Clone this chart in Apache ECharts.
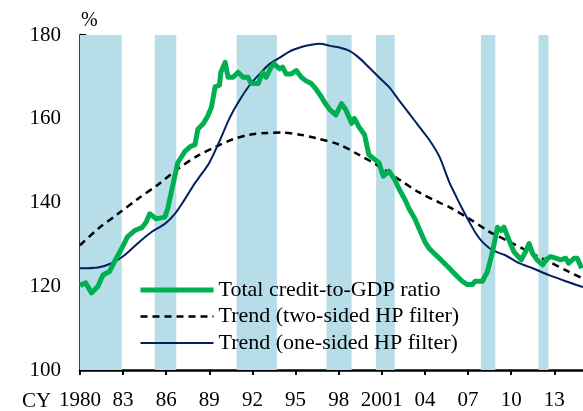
<!DOCTYPE html>
<html>
<head>
<meta charset="utf-8">
<script src="https://cdn.jsdelivr.net/npm/echarts@6/dist/echarts.min.js"></script>
<style>
  html, body { margin: 0; padding: 0; background: #fff; }
  #chart { width: 583px; height: 411px; }
</style>
</head>
<body>
<div id="chart"></div>
<script>
// recession / crisis shading, [start, end] in years
const recessions = [
  [1980, 1982.9], [1985.2, 1986.7], [1990.9, 1993.7], [1997.15, 1998.9],
  [2000.6, 2001.9], [2007.9, 2008.9], [2011.9, 2012.6]
]

const tickYears = [1980, 1983, 1986, 1989, 1992, 1995, 1998, 2001, 2004, 2007, 2010, 2013]
const tickLabels = ['1980', '83', '86', '89', '92', '95', '98', '2001', '04', '07', '10', '13']

// [year, %]
const creditRatio = [
  [1980.0, 120.2], [1980.4, 120.8], [1980.8, 118.4], [1981.25, 120], [1981.6, 122.7],
  [1982.05, 123.5], [1982.4, 125.9], [1982.9, 129], [1983.3, 131.8], [1983.8, 133.3],
  [1984.3, 134], [1984.6, 135.3], [1984.85, 137.3], [1985.3, 136.1], [1985.9, 136.5],
  [1986.1, 138.5], [1986.45, 144], [1986.8, 149.5], [1987.3, 152.2], [1987.7, 153.4],
  [1988.0, 153.8], [1988.2, 157.5], [1988.6, 158.9], [1988.9, 160.7], [1989.15, 162.8],
  [1989.4, 167.6], [1989.7, 168], [1989.8, 171.1], [1990.1, 173.5], [1990.3, 169.9],
  [1990.65, 169.9], [1991.0, 171.1], [1991.35, 169.9], [1991.7, 169.9], [1991.9, 168.4],
  [1992.4, 168.4], [1992.7, 171.1], [1992.95, 169.9], [1993.3, 172.3], [1993.5, 173.1],
  [1993.9, 171.9], [1994.1, 172.3], [1994.35, 170.7], [1994.7, 170.7], [1995.05, 171.5],
  [1995.4, 169.9], [1995.7, 169.1], [1996.1, 168.4], [1996.4, 167.2], [1996.8, 165.2],
  [1997.0, 164], [1997.4, 162.1], [1997.8, 160.9], [1998.2, 163.6], [1998.5, 162.1],
  [1998.9, 158.9], [1999.1, 160.1], [1999.4, 158.1], [1999.8, 156.2], [2000.1, 151.4],
  [2000.5, 150.3], [2000.8, 149.5], [2001.1, 146.3], [2001.5, 147.5], [2001.9, 145.5],
  [2002.2, 143.2], [2002.6, 140.8], [2002.9, 138.5], [2003.3, 136.1], [2003.6, 133.7],
  [2004.0, 130.6], [2004.3, 129], [2004.65, 127.8], [2005.0, 126.7], [2005.35, 125.5],
  [2005.7, 124.3], [2006.15, 122.7], [2006.6, 121.2], [2006.95, 120.4], [2007.3, 120.4],
  [2007.5, 121.2], [2008.0, 121.2], [2008.35, 123.5], [2008.7, 128.2], [2009.05, 134.1],
  [2009.3, 133.3], [2009.5, 134.1], [2009.9, 130.6], [2010.2, 128.2], [2010.7, 126.3],
  [2011.0, 128.2], [2011.25, 130.2], [2011.5, 127.8], [2011.8, 126.3], [2012.2, 125.1],
  [2012.4, 126.3], [2012.75, 127.1], [2013.1, 126.7], [2013.45, 126.3], [2013.8, 126.7],
  [2014.0, 125.5], [2014.4, 126.7], [2014.6, 126.7], [2014.9, 124.3]
]

const trendTwoSided = [
  [1980, 129.8], [1981.25, 133.7], [1982.6, 137.2], [1984, 140.8], [1985.4, 144.2],
  [1986.8, 148], [1988.2, 151.2], [1989.5, 153.4], [1990.65, 155.1], [1991.8, 156.2],
  [1993, 156.6], [1994.1, 156.7], [1995.3, 156.2], [1996.4, 155.4], [1998.05, 153.8],
  [1999.4, 151.4], [2000.8, 148.7], [2002.2, 145.5], [2003.6, 142.4], [2005, 140],
  [2005.7, 138.9], [2007.1, 136.1], [2008.5, 133], [2009.9, 130.6], [2011.25, 128.2],
  [2012.6, 125.9], [2014, 123.5], [2015, 121.8]
]

const trendOneSided = [
  [1980, 124.3], [1981.25, 124.5], [1982.2, 125.5], [1983.1, 127.4], [1984, 130.2],
  [1985, 133], [1985.9, 134.9], [1986.6, 137.3], [1987.3, 140.8], [1987.95, 144.4],
  [1988.5, 147], [1989, 149.5], [1989.7, 154.6], [1990.4, 160.1], [1991.1, 164.4],
  [1991.8, 168], [1992.5, 170.7], [1993.2, 173.1], [1993.9, 174.6], [1994.6, 176.1],
  [1995.3, 177], [1996, 177.6], [1996.7, 177.9], [1997.4, 177.4], [1998.05, 177],
  [1998.75, 176.2], [1999.4, 174.6], [2000.1, 172.3], [2000.8, 169.9], [2001.5, 167.6],
  [2002.2, 164.4], [2002.9, 161.3], [2003.6, 158.1], [2004.3, 155], [2005, 151],
  [2005.7, 144.8], [2006.15, 141.6], [2006.6, 138.5], [2007.1, 135.3], [2007.55, 132.6],
  [2008, 130.6], [2008.7, 128.6], [2009.6, 127.4], [2010.55, 125.5], [2011.5, 124.3],
  [2012.6, 122.7], [2013.8, 121.2], [2015, 119.8]
]

const serif = 'Liberation Serif'

const chart = echarts.init(document.getElementById('chart'))
chart.setOption({
  animation: false,
  backgroundColor: '#fff',
  grid: { left: 80, right: 0, top: 35, bottom: 38 },
  graphic: [{
    type: 'text', left: 81, top: 11,
    style: { text: '%', fontSize: 20, fontFamily: serif, fill: '#000' }
  }, {
    type: 'text', left: 22, top: 391,
    style: { text: 'CY', fontSize: 21, fontFamily: serif, fill: '#000' }
  }],
  legend: {
    orient: 'vertical',
    left: 133,
    top: 274,
    itemWidth: 73,
    itemHeight: 14,
    itemGap: 4.5,
    itemStyle: { opacity: 0 },
    lineStyle: { width: 'inherit' },
    textStyle: { fontSize: 22, fontFamily: serif, color: '#000' },
    data: ['Total credit-to-GDP ratio', 'Trend (two-sided HP filter)', 'Trend (one-sided HP filter)']
  },
  xAxis: {
    type: 'value',
    min: 1980,
    max: 2015,
    interval: 3,
    axisLine: { lineStyle: { color: '#000', width: 2.5 } },
    axisTick: { show: true, inside: false, length: 5, lineStyle: { color: '#000', width: 2 } },
    axisLabel: {
      margin: 20,
      fontSize: 21,
      fontFamily: serif,
      color: '#000',
      showMaxLabel: false,
      formatter(v) {
        const i = tickYears.indexOf(v)
        return i >= 0 ? tickLabels[i] : ''
      }
    },
    splitLine: { show: false }
  },
  yAxis: {
    type: 'value',
    min: 100,
    max: 180,
    interval: 20,
    axisLine: { show: true, lineStyle: { color: '#000', width: 2.5 } },
    axisTick: { show: true, inside: true, length: 6, lineStyle: { color: '#000', width: 2 } },
    axisLabel: { margin: 19, fontSize: 21, fontFamily: serif, color: '#000' },
    splitLine: { show: false }
  },
  series: [{
    name: 'bands',
    type: 'line',
    data: [],
    z: 1,
    silent: true,
    markArea: {
      silent: true,
      itemStyle: { color: '#b7dde8', opacity: 1 },
      data: recessions.map(r => [{ xAxis: r[0] }, { xAxis: r[1] }])
    }
  }, {
    name: 'Trend (two-sided HP filter)',
    type: 'line',
    data: trendTwoSided,
    smooth: 0.3,
    symbol: 'none',
    z: 3,
    lineStyle: { color: '#000', width: 2.5, type: [7, 5] },
    itemStyle: { color: '#000' }
  }, {
    name: 'Trend (one-sided HP filter)',
    type: 'line',
    data: trendOneSided,
    smooth: 0.3,
    symbol: 'none',
    z: 4,
    lineStyle: { color: '#002060', width: 2 },
    itemStyle: { color: '#002060' }
  }, {
    name: 'Total credit-to-GDP ratio',
    type: 'line',
    data: creditRatio,
    symbol: 'none',
    z: 5,
    lineStyle: { color: '#00b050', width: 5, join: 'round' },
    itemStyle: { color: '#00b050' }
  }]
})
</script>
</body>
</html>
